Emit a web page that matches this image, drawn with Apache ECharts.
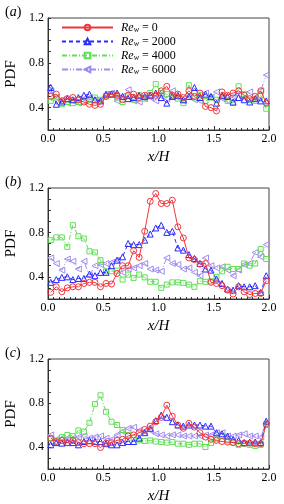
<!DOCTYPE html>
<html><head><meta charset="utf-8">
<script src="https://cdn.jsdelivr.net/npm/echarts@6/dist/echarts.min.js"></script>
<style>html,body{margin:0;padding:0;background:#fff}#c{width:284px;height:504px}</style>
</head><body><div id="c"></div>
<script>
// x/H bin centres
const xs = [0.025,0.075,0.125,0.175,0.225,0.275,0.325,0.375,0.425,0.475,0.525,0.575,0.625,0.675,0.725,0.775,0.825,0.875,0.925,0.975,1.025,1.075,1.125,1.175,1.225,1.275,1.325,1.375,1.425,1.475,1.525,1.575,1.625,1.675,1.725,1.775,1.825,1.875,1.925,1.975];
const seriesNames = ['Re0','Re2000','Re4000','Re6000'];
const legendValues = ['0','2000','4000','6000'];
const xTicks = [0.0,0.5,1.0,1.5,2.0];
const yTickLabels = [0.4,0.8,1.2];

// panel (a)
const a_re0    = [0.50,0.52,0.46,0.48,0.49,0.47,0.45,0.43,0.42,0.43,0.50,0.52,0.51,0.47,0.51,0.52,0.49,0.51,0.51,0.51,0.55,0.59,0.51,0.52,0.49,0.55,0.50,0.53,0.41,0.40,0.37,0.54,0.51,0.53,0.55,0.51,0.48,0.50,0.55,0.44];
const a_re2000 = [0.58,0.43,0.45,0.48,0.47,0.49,0.51,0.52,0.47,0.46,0.52,0.52,0.53,0.50,0.48,0.49,0.51,0.50,0.51,0.53,0.49,0.44,0.50,0.51,0.47,0.50,0.58,0.49,0.52,0.50,0.44,0.51,0.50,0.45,0.49,0.47,0.45,0.48,0.46,0.46];
const a_re4000 = [0.46,0.49,0.43,0.45,0.44,0.45,0.46,0.47,0.49,0.47,0.50,0.52,0.49,0.45,0.50,0.47,0.51,0.48,0.53,0.61,0.53,0.52,0.50,0.48,0.44,0.60,0.49,0.51,0.46,0.49,0.47,0.50,0.46,0.44,0.59,0.52,0.47,0.46,0.51,0.39];
const a_re6000 = [0.55,0.49,0.47,0.44,0.46,0.44,0.48,0.49,0.47,0.46,0.52,0.53,0.46,0.50,0.56,0.46,0.45,0.48,0.49,0.46,0.52,0.48,0.55,0.49,0.46,0.50,0.47,0.46,0.53,0.49,0.54,0.48,0.46,0.50,0.52,0.49,0.54,0.48,0.55,0.69];

// panel (b)
const b_re0    = [0.26,0.31,0.265,0.30,0.31,0.31,0.34,0.35,0.35,0.31,0.34,0.335,0.43,0.50,0.50,0.635,0.575,0.81,1.08,1.15,1.06,1.06,1.09,0.85,0.75,0.57,0.555,0.515,0.52,0.35,0.34,0.32,0.28,0.245,0.31,0.265,0.24,0.25,0.25,0.365];
const b_re2000 = [0.35,0.375,0.395,0.40,0.375,0.385,0.385,0.425,0.41,0.44,0.44,0.50,0.55,0.58,0.70,0.69,0.69,0.73,0.785,0.84,0.865,0.80,0.81,0.66,0.64,0.60,0.565,0.52,0.47,0.46,0.38,0.34,0.29,0.28,0.32,0.31,0.31,0.32,0.26,0.41];
const b_re4000 = [0.73,0.755,0.755,0.67,0.865,0.765,0.745,0.63,0.62,0.55,0.45,0.45,0.455,0.375,0.42,0.39,0.42,0.395,0.355,0.355,0.30,0.33,0.35,0.35,0.345,0.33,0.31,0.36,0.355,0.36,0.40,0.45,0.49,0.47,0.47,0.52,0.50,0.52,0.65,0.56];
const b_re6000 = [0.57,0.52,0.46,0.56,0.54,0.47,0.54,0.41,0.50,0.51,0.52,0.53,0.55,0.44,0.47,0.48,0.50,0.52,0.47,0.46,0.45,0.57,0.52,0.51,0.47,0.48,0.44,0.41,0.57,0.50,0.48,0.49,0.46,0.41,0.46,0.51,0.52,0.62,0.58,0.69];

// panel (c)
const c_re0    = [0.48,0.45,0.46,0.44,0.46,0.44,0.43,0.43,0.43,0.395,0.435,0.44,0.46,0.47,0.50,0.51,0.53,0.56,0.59,0.63,0.67,0.78,0.68,0.60,0.57,0.615,0.58,0.53,0.49,0.47,0.46,0.45,0.445,0.44,0.43,0.435,0.435,0.43,0.43,0.61];
const c_re2000 = [0.42,0.44,0.435,0.44,0.44,0.42,0.45,0.46,0.45,0.45,0.43,0.42,0.42,0.44,0.45,0.45,0.48,0.53,0.57,0.64,0.69,0.67,0.63,0.60,0.59,0.60,0.60,0.60,0.59,0.59,0.53,0.52,0.50,0.47,0.46,0.44,0.445,0.445,0.44,0.635];
const c_re4000 = [0.48,0.45,0.49,0.51,0.50,0.55,0.54,0.62,0.79,0.87,0.72,0.63,0.60,0.555,0.51,0.48,0.46,0.455,0.46,0.45,0.445,0.44,0.445,0.43,0.43,0.42,0.43,0.43,0.40,0.435,0.47,0.50,0.46,0.44,0.42,0.43,0.42,0.41,0.42,0.60];
const c_re6000 = [0.51,0.47,0.48,0.48,0.48,0.49,0.50,0.48,0.49,0.50,0.48,0.47,0.51,0.54,0.57,0.58,0.55,0.54,0.55,0.52,0.51,0.50,0.51,0.51,0.50,0.50,0.50,0.50,0.51,0.51,0.53,0.53,0.50,0.50,0.51,0.52,0.50,0.50,0.49,0.62];

const panels = [
  {label:'a', top:18, height:112, data:[a_re0,a_re2000,a_re4000,a_re6000]},
  {label:'b', top:188, height:111, data:[b_re0,b_re2000,b_re4000,b_re6000]},
  {label:'c', top:359, height:110, data:[c_re0,c_re2000,c_re4000,c_re6000]}
];

const FONT = 'Liberation Serif';
const styles = [
  {color:'#f2353a', symbol:'circle', size:6, rotate:0, type:'solid'},
  {color:'#2a2aff', symbol:'triangle', size:6, rotate:0, type:[4,3]},
  {color:'#62de58', symbol:'rect', size:5, rotate:0, type:[5,2,1,2]},
  {color:'#a08cf0', symbol:'triangle', size:6, rotate:90, type:[6,2,1,2,1,2]}
];

const grid=[], xAxis=[], yAxis=[], series=[], graphic=[];
panels.forEach((p,pi)=>{
  grid.push({left:48, right:15, top:p.top, height:p.height, show:true, borderColor:'#444', borderWidth:1, containLabel:false, outerBoundsMode:'none'});
  xAxis.push({type:'value', gridIndex:pi, min:0, max:2, interval:0.5,
    name:'x/H', nameLocation:'middle', nameGap:20,
    nameTextStyle:{fontFamily:FONT, fontStyle:'italic', fontSize:15, color:'#000'},
    axisLine:{show:true, lineStyle:{color:'#333', width:1}},
    axisTick:{show:true, inside:true, length:4, lineStyle:{color:'#333'}},
    minorTick:{show:true, splitNumber:10, length:2, lineStyle:{color:'#333'}},
    splitLine:{show:false},
    axisLabel:{fontFamily:FONT, fontSize:12, color:'#000', margin:3,
      formatter:v=>{const t=xTicks.find(q=>Math.abs(q-v)<1e-6); return t===undefined?'':t.toFixed(1);}}
  });
  yAxis.push({type:'value', gridIndex:pi, min:0.2, max:1.2, interval:0.1,
    name:'PDF', nameLocation:'middle', nameGap:26, nameRotate:90,
    nameTextStyle:{fontFamily:FONT, fontSize:15, color:'#000'},
    axisLine:{show:true, lineStyle:{color:'#333', width:1}},
    axisTick:{show:true, inside:true, length:3, lineStyle:{color:'#333'}},
    splitLine:{show:false},
    axisLabel:{fontFamily:FONT, fontSize:12, color:'#000', margin:4,
      formatter:v=>{const t=yTickLabels.find(q=>Math.abs(q-v)<1e-6); return t===undefined?'':t.toFixed(1);}}
  });
  p.data.forEach((vals,si)=>{
    const s=styles[si];
    series.push({type:'line', name:seriesNames[si], xAxisIndex:pi, yAxisIndex:pi,
      data:xs.map((x,i)=>[x, vals[i]]),
      symbol:s.symbol, symbolSize:s.size, symbolRotate:s.rotate, showAllSymbol:true,
      lineStyle:{color:s.color, width:1, type:s.type},
      itemStyle:{color:'rgba(255,255,255,0)', borderColor:s.color, borderWidth:1},
      animation:false, z:10-si});
  });
  graphic.push({type:'text', left:5, top:p.top-13,
    style:{text:'({i|'+p.label+'})', fontFamily:FONT, fontSize:14, fill:'#000',
      rich:{i:{fontStyle:'italic', fontFamily:FONT, fontSize:14}}}});
});

const chart = echarts.init(document.getElementById('c'), null, {renderer:'canvas'});
chart.setOption({
  animation:false,
  grid, xAxis, yAxis, series, graphic,
  legend:{data:seriesNames, orient:'vertical', left:61, top:21, padding:0, itemWidth:51, itemHeight:7, itemGap:1,
    selectedMode:false,
    formatter:name=>'{i|Re}{s|w}{n| = '+legendValues[seriesNames.indexOf(name)]+'}',
    textStyle:{fontFamily:FONT, fontSize:12, color:'#000', padding:[0,0,0,3], lineHeight:13,
      rich:{
        i:{fontFamily:FONT, fontStyle:'italic', fontSize:12, lineHeight:13},
        s:{fontFamily:FONT, fontStyle:'italic', fontSize:8, lineHeight:13, verticalAlign:'bottom'},
        n:{fontFamily:FONT, fontSize:12, lineHeight:13}
      }}
  }
});
</script></body></html>
